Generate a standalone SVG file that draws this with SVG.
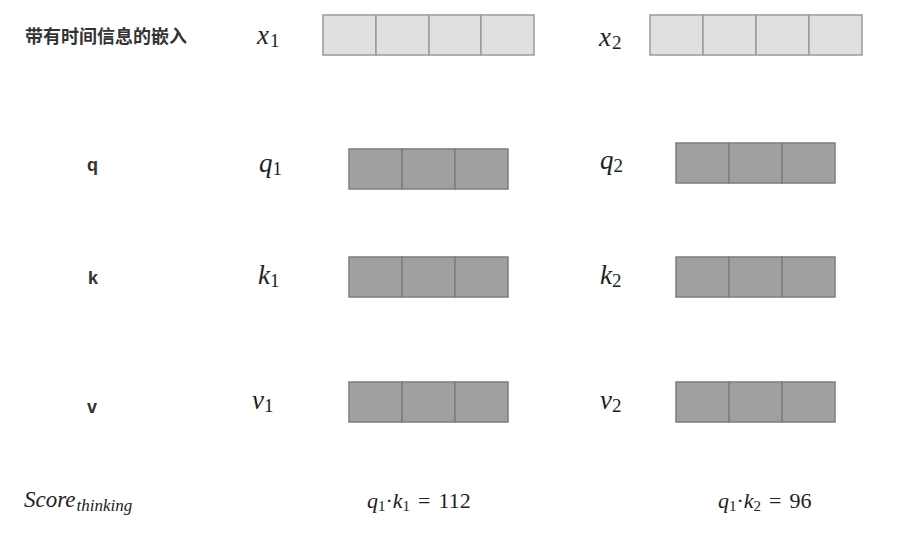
<svg xmlns="http://www.w3.org/2000/svg" width="903" height="542" viewBox="0 0 903 542">
<style>
.lt{fill:#e0e0e0;stroke:#9a9a9a;stroke-width:1.5}
.dk{fill:#a0a0a0;stroke:#7e7e7e;stroke-width:1.5}
</style>
<rect width="903" height="542" fill="#fff"/>
<g id="labels">
<g font-family="Liberation Sans, Noto Sans CJK SC, sans-serif" font-weight="bold" font-size="18" fill="#333">
<text x="25" y="43">带有时间信息的嵌入</text>
<text x="87" y="171">q</text>
<text x="88" y="284">k</text>
<text x="87" y="413">v</text>
</g>
<text x="24" y="507" font-family="Liberation Serif, serif" font-style="italic" font-size="23" fill="#222">Score<tspan font-size="17" dy="4" dx="1">thinking</tspan></text>
</g>
<g font-family="Liberation Serif, serif" font-style="italic" font-size="27" fill="#222">
<g id="x1">
<text x="257" y="44">x<tspan font-style="normal" font-size="19" dy="3" dx="1">1</tspan></text>
<rect class="lt" x="323" y="15" width="53" height="40"/><rect class="lt" x="376" y="15" width="53" height="40"/><rect class="lt" x="429" y="15" width="52" height="40"/><rect class="lt" x="481" y="15" width="53" height="40"/>
</g>
<g id="x2">
<text x="599" y="46">x<tspan font-style="normal" font-size="19" dy="3" dx="1">2</tspan></text>
<rect class="lt" x="650" y="15" width="53" height="40"/><rect class="lt" x="703" y="15" width="53" height="40"/><rect class="lt" x="756" y="15" width="53" height="40"/><rect class="lt" x="809" y="15" width="53" height="40"/>
</g>
<g id="q1">
<text x="259" y="172">q<tspan font-style="normal" font-size="19" dy="3">1</tspan></text>
<rect class="dk" x="349" y="149" width="53" height="40"/><rect class="dk" x="402" y="149" width="53" height="40"/><rect class="dk" x="455" y="149" width="53" height="40"/>
</g>
<g id="q2">
<text x="600" y="169">q<tspan font-style="normal" font-size="19" dy="3">2</tspan></text>
<rect class="dk" x="676" y="143" width="53" height="40"/><rect class="dk" x="729" y="143" width="53" height="40"/><rect class="dk" x="782" y="143" width="53" height="40"/>
</g>
<g id="k1">
<text x="258" y="284">k<tspan font-style="normal" font-size="19" dy="3">1</tspan></text>
<rect class="dk" x="349" y="257" width="53" height="40"/><rect class="dk" x="402" y="257" width="53" height="40"/><rect class="dk" x="455" y="257" width="53" height="40"/>
</g>
<g id="k2">
<text x="600" y="284">k<tspan font-style="normal" font-size="19" dy="3">2</tspan></text>
<rect class="dk" x="676" y="257" width="53" height="40"/><rect class="dk" x="729" y="257" width="53" height="40"/><rect class="dk" x="782" y="257" width="53" height="40"/>
</g>
<g id="v1">
<text x="252" y="409">v<tspan font-style="normal" font-size="19" dy="3">1</tspan></text>
<rect class="dk" x="349" y="382" width="53" height="40"/><rect class="dk" x="402" y="382" width="53" height="40"/><rect class="dk" x="455" y="382" width="53" height="40"/>
</g>
<g id="v2">
<text x="600" y="409">v<tspan font-style="normal" font-size="19" dy="3">2</tspan></text>
<rect class="dk" x="676" y="382" width="53" height="40"/><rect class="dk" x="729" y="382" width="53" height="40"/><rect class="dk" x="782" y="382" width="53" height="40"/>
</g>
</g>
<g id="scores" font-family="Liberation Serif, serif" font-style="italic" font-size="22" fill="#222">
<text x="367" y="508">q<tspan font-style="normal" font-size="15" dy="3">1</tspan><tspan font-style="normal" dy="-3">·</tspan>k<tspan font-style="normal" font-size="15" dy="3">1</tspan><tspan font-style="normal" dy="-3" dx="8">=</tspan><tspan font-style="normal" dx="8">112</tspan></text>
<text x="718" y="508">q<tspan font-style="normal" font-size="15" dy="3">1</tspan><tspan font-style="normal" dy="-3">·</tspan>k<tspan font-style="normal" font-size="15" dy="3">2</tspan><tspan font-style="normal" dy="-3" dx="8">=</tspan><tspan font-style="normal" dx="8">96</tspan></text>
</g>
<g id="connectors"/>
</svg>
